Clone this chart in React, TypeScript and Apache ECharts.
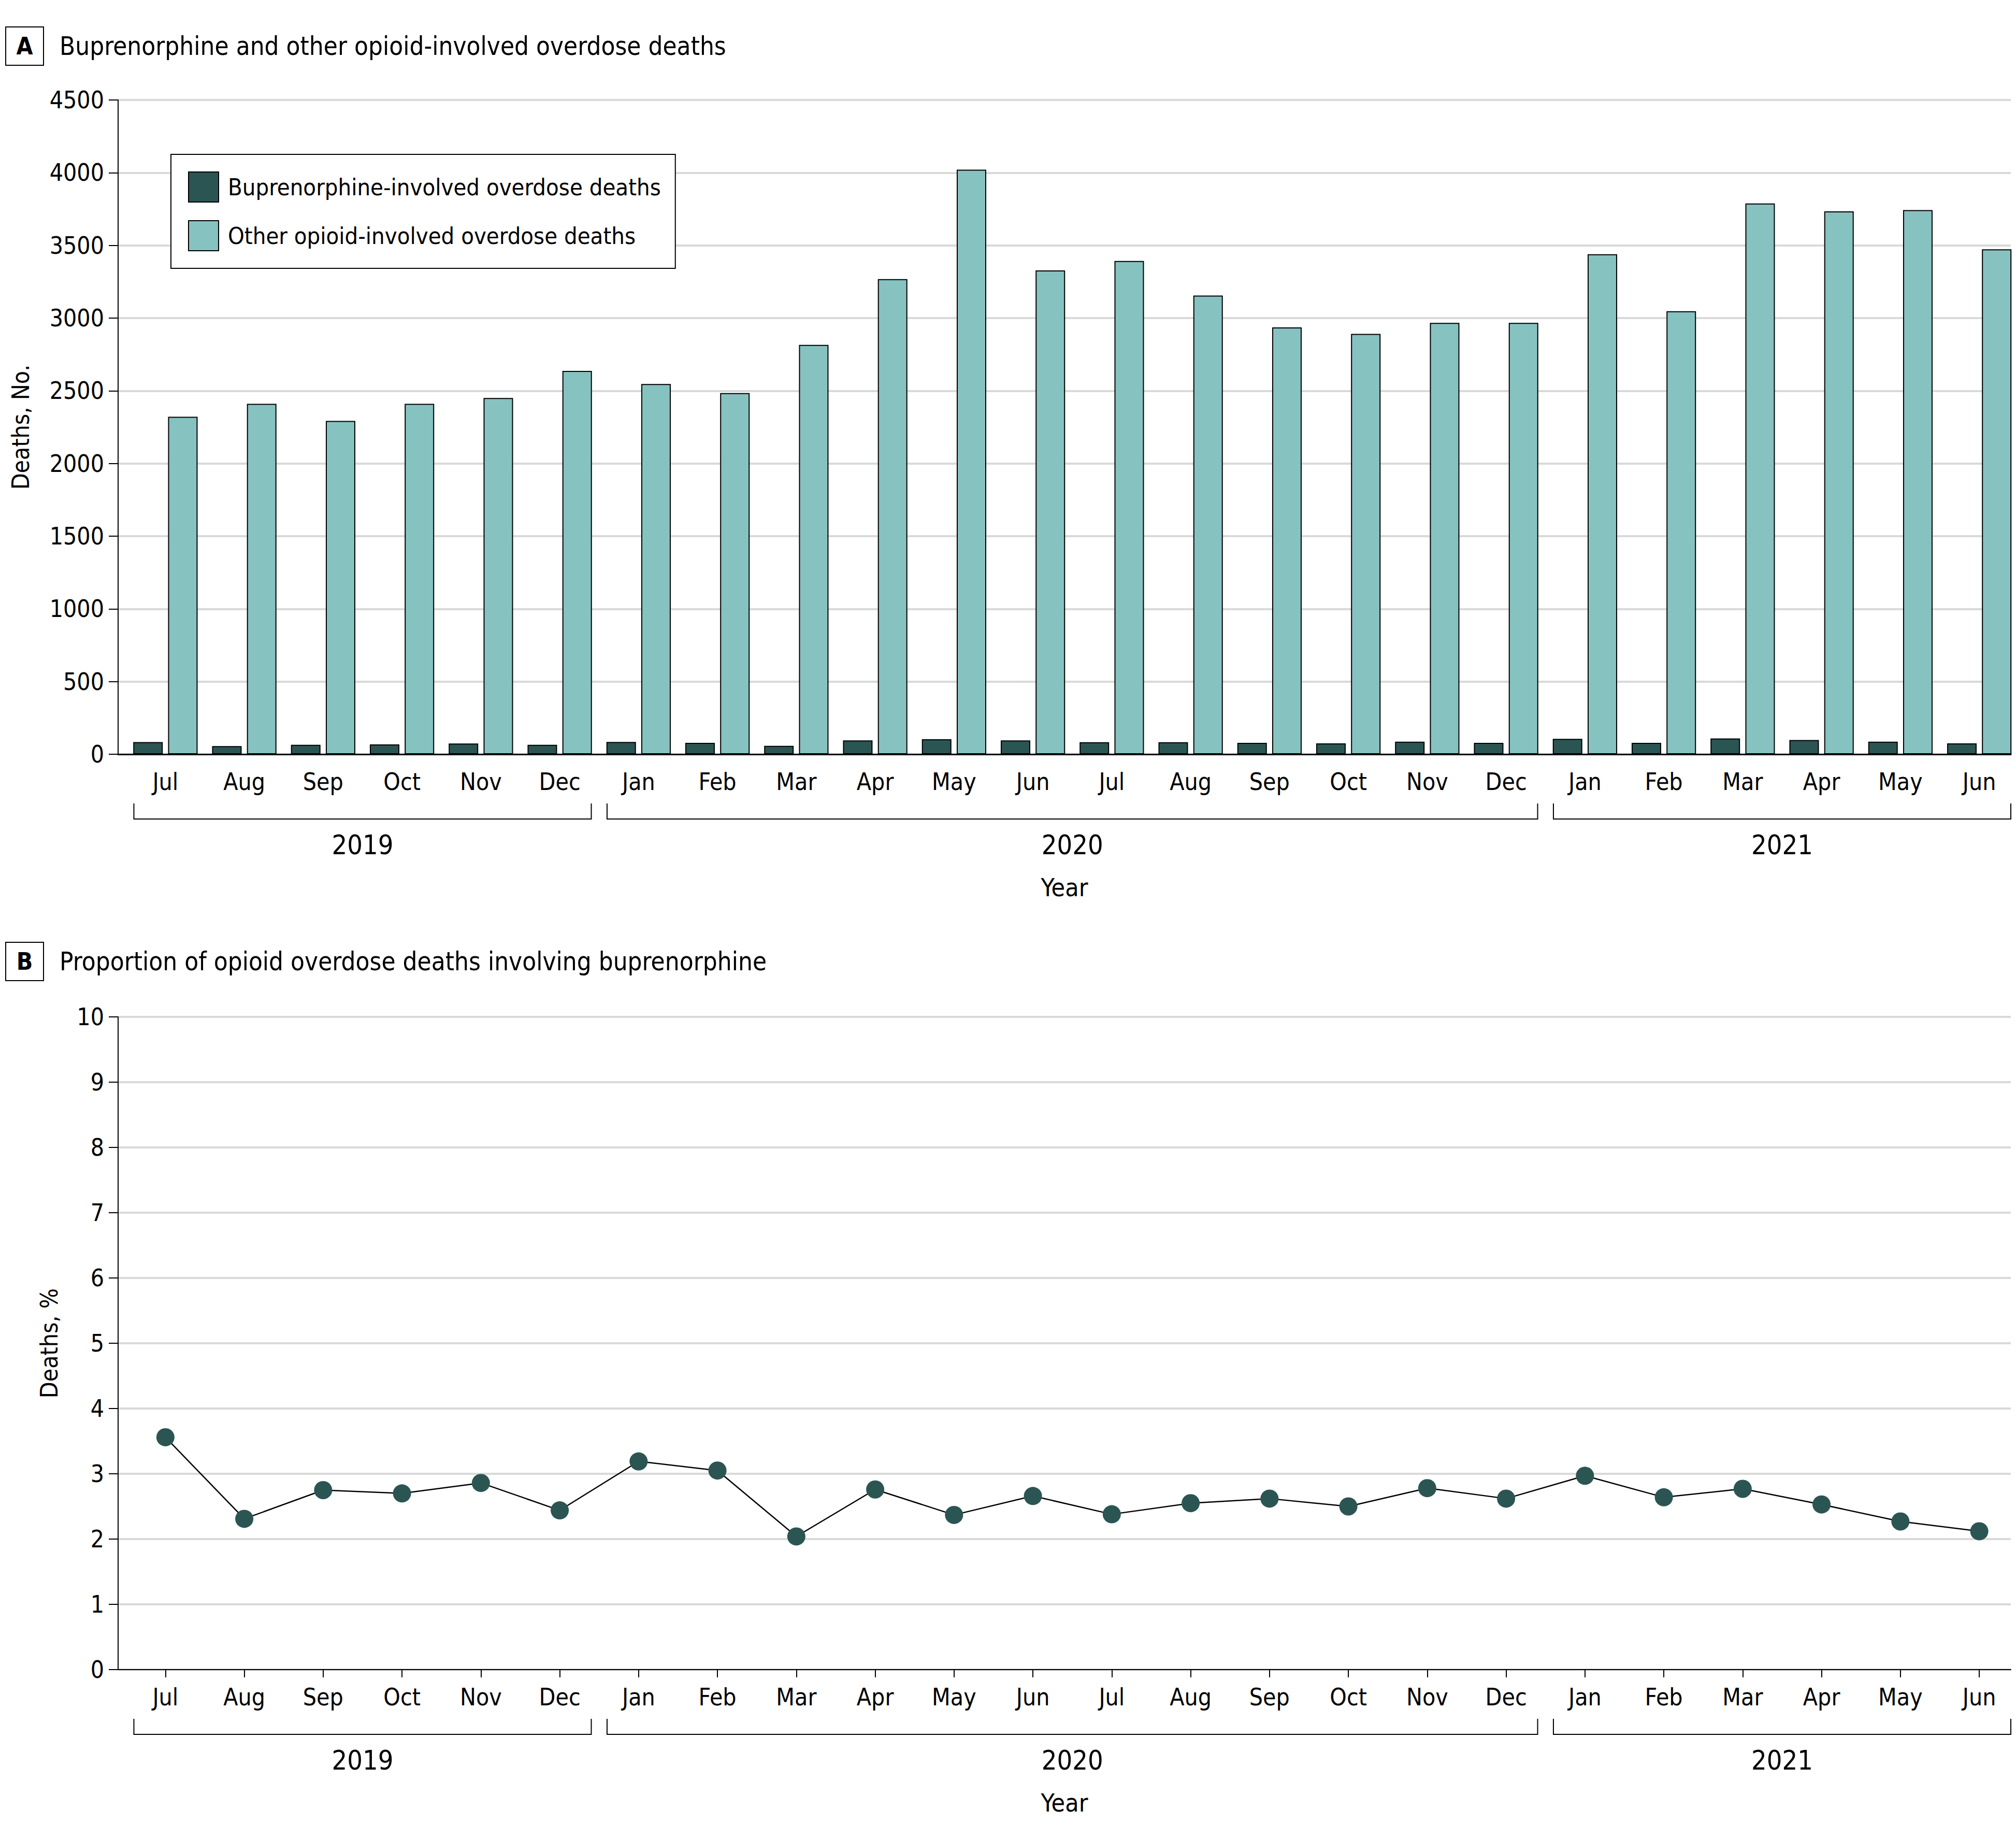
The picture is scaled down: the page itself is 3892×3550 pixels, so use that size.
import React, { useEffect, useRef } from "react";
import * as echarts from "echarts";

const months = ["Jul", "Aug", "Sep", "Oct", "Nov", "Dec", "Jan", "Feb", "Mar", "Apr", "May", "Jun", "Jul", "Aug", "Sep", "Oct", "Nov", "Dec", "Jan", "Feb", "Mar", "Apr", "May", "Jun"];
const buprenorphineDeaths = [84, 56, 65, 68, 74, 65, 85, 78, 58, 95, 103, 95, 83, 83, 78, 75, 86, 78, 106, 78, 109, 98, 86, 75];
const otherOpioidDeaths = [2321, 2410, 2293, 2410, 2450, 2637, 2547, 2484, 2816, 3268, 4021, 3328, 3393, 3155, 2936, 2891, 2967, 2967, 3439, 3047, 3788, 3734, 3743, 3473];
const buprenorphinePct = [3.56, 2.31, 2.75, 2.7, 2.86, 2.44, 3.19, 3.05, 2.04, 2.76, 2.37, 2.66, 2.38, 2.55, 2.62, 2.5, 2.78, 2.62, 2.97, 2.64, 2.77, 2.53, 2.27, 2.12];
const years = ["2019", "2020", "2021"];
const yearStart = [0, 6, 18];
const yearEnd = [5, 17, 23];

const seriesNames = ["Buprenorphine-involved overdose deaths", "Other opioid-involved overdose deaths"];
const titleA = "Buprenorphine and other opioid-involved overdose deaths";
const titleB = "Proportion of opioid overdose deaths involving buprenorphine";

const FONT = "'DejaVu Sans Condensed', 'Liberation Sans Narrow', 'DejaVu Sans', sans-serif";
const DARK = "#2b5553";
const TEAL = "#86c2c0";
const GRID_COLOR = "#d9d9d9";
const FS = 46;

export default function App() {
  const ref = useRef<HTMLDivElement>(null);
  useEffect(() => {
    document.body.style.margin = "0";
    document.body.style.overflow = "hidden";
    const chart = echarts.init(ref.current!, null, { renderer: "svg" });
    const idx = months.map((_, i) => i);

    const xAxisBase = (gridIndex: number, ticks: boolean) => ({
      type: "value",
      gridIndex,
      min: -0.6,
      max: 23.4,
      name: "Year",
      nameLocation: "middle",
      nameGap: 233,
      nameTextStyle: { fontFamily: FONT, fontSize: 48, color: "#000" },
      axisLine: { show: true, onZero: false, lineStyle: { color: "#000", width: ticks ? 2 : 3 } },
      axisTick: { show: ticks, customValues: idx, length: 15, lineStyle: { color: "#000", width: 2 } },
      axisLabel: {
        customValues: idx,
        formatter: (v: number) => months[Math.round(v)] ?? "",
        margin: 30,
        fontFamily: FONT,
        fontSize: FS,
        color: "#000",
      },
      splitLine: { show: false },
    });

    const yAxisBase = (gridIndex: number, max: number, interval: number, name: string, nameGap: number) => ({
      type: "value",
      gridIndex,
      min: 0,
      max,
      interval,
      name,
      nameLocation: "middle",
      nameGap,
      nameTextStyle: { fontFamily: FONT, fontSize: FS, color: "#000" },
      axisLine: { show: true, onZero: false, lineStyle: { color: "#000", width: 2 } },
      axisTick: { show: true, length: 18, lineStyle: { color: "#000", width: 2 } },
      axisLabel: { margin: 27, fontFamily: FONT, fontSize: FS, color: "#000", formatter: (v: number) => String(v) },
      splitLine: { show: true, lineStyle: { color: GRID_COLOR, width: 4 } },
    });

    const bracketSeries = (xAxisIndex: number, yAxisIndex: number) => ({
      type: "custom",
      xAxisIndex,
      yAxisIndex,
      clip: false,
      silent: true,
      encode: { x: [0, 1], y: 2 },
      data: years.map((_, i) => [yearStart[i], yearEnd[i], 0]),
      renderItem: (params: any, api: any) => {
        const s = api.value(0);
        const e = api.value(1);
        const p1 = api.coord([s - 0.4, 0]);
        const p2 = api.coord([e + 0.4, 0]);
        const y0 = p1[1];
        return {
          type: "group",
          children: [
            {
              type: "polyline",
              shape: { points: [[p1[0], y0 + 95], [p1[0], y0 + 125], [p2[0], y0 + 125], [p2[0], y0 + 95]] },
              style: { stroke: "#000", lineWidth: 2, fill: "none" },
            },
            {
              type: "text",
              x: (p1[0] + p2[0]) / 2,
              y: y0 + 175,
              style: {
                text: years[params.dataIndex],
                fontFamily: FONT,
                fontSize: 52,
                fill: "#000",
                align: "center",
                verticalAlign: "middle",
              },
            },
          ],
        };
      },
    });

    const panelTitle = (letter: string, text: string, cy: number) => [
      {
        type: "rect",
        shape: { x: 11, y: cy - 37, width: 73, height: 74 },
        style: { fill: "#fff", stroke: "#000", lineWidth: 2 },
      },
      {
        type: "text",
        x: 47.5,
        y: cy,
        style: { text: letter, fontFamily: FONT, fontWeight: "bold", fontSize: 46, fill: "#000", align: "center", verticalAlign: "middle" },
      },
      {
        type: "text",
        x: 115,
        y: cy,
        style: { text, fontFamily: FONT, fontSize: 49, fill: "#000", align: "left", verticalAlign: "middle" },
      },
    ];

    chart.setOption({
      animation: false,
      backgroundColor: "#fff",
      textStyle: { fontFamily: FONT },
      grid: [
        { left: 228, right: 10, top: 193, height: 1263 },
        { left: 228, right: 10, top: 1963, height: 1260 },
      ],
      xAxis: [xAxisBase(0, false), xAxisBase(1, true)],
      yAxis: [
        yAxisBase(0, 4500, 500, "Deaths, No.", 165),
        yAxisBase(1, 10, 1, "Deaths, %", 110),
      ],
      legend: {
        data: seriesNames,
        orient: "vertical",
        left: 330,
        top: 298,
        padding: [33, 28, 33, 33],
        itemWidth: 58,
        itemHeight: 58,
        itemGap: 34,
        icon: "rect",
        borderColor: "#000",
        borderWidth: 2,
        backgroundColor: "#fff",
        textStyle: { fontFamily: FONT, fontSize: 45, color: "#000", padding: [0, 0, 0, 13] },
      },
      graphic: [...panelTitle("A", titleA, 89), ...panelTitle("B", titleB, 1856)],
      series: [
        {
          name: seriesNames[0],
          type: "bar",
          xAxisIndex: 0,
          yAxisIndex: 0,
          barWidth: 57,
          barGap: "18%",
          itemStyle: { color: DARK, borderColor: "#000", borderWidth: 2 },
          data: buprenorphineDeaths.map((v, i) => [i, v]),
        },
        {
          name: seriesNames[1],
          type: "bar",
          xAxisIndex: 0,
          yAxisIndex: 0,
          barWidth: 57,
          barGap: "18%",
          itemStyle: { color: TEAL, borderColor: "#000", borderWidth: 2 },
          data: otherOpioidDeaths.map((v, i) => [i, v]),
        },
        {
          name: "Proportion",
          type: "line",
          xAxisIndex: 1,
          yAxisIndex: 1,
          symbol: "circle",
          symbolSize: 35,
          lineStyle: { color: "#000", width: 2.5 },
          itemStyle: { color: DARK },
          data: buprenorphinePct.map((v, i) => [i, v]),
        },
        bracketSeries(0, 0),
        bracketSeries(1, 1),
      ],
    });
    return () => chart.dispose();
  }, []);
  return <div ref={ref} style={{ width: 3892, height: 3550 }} />;
}
